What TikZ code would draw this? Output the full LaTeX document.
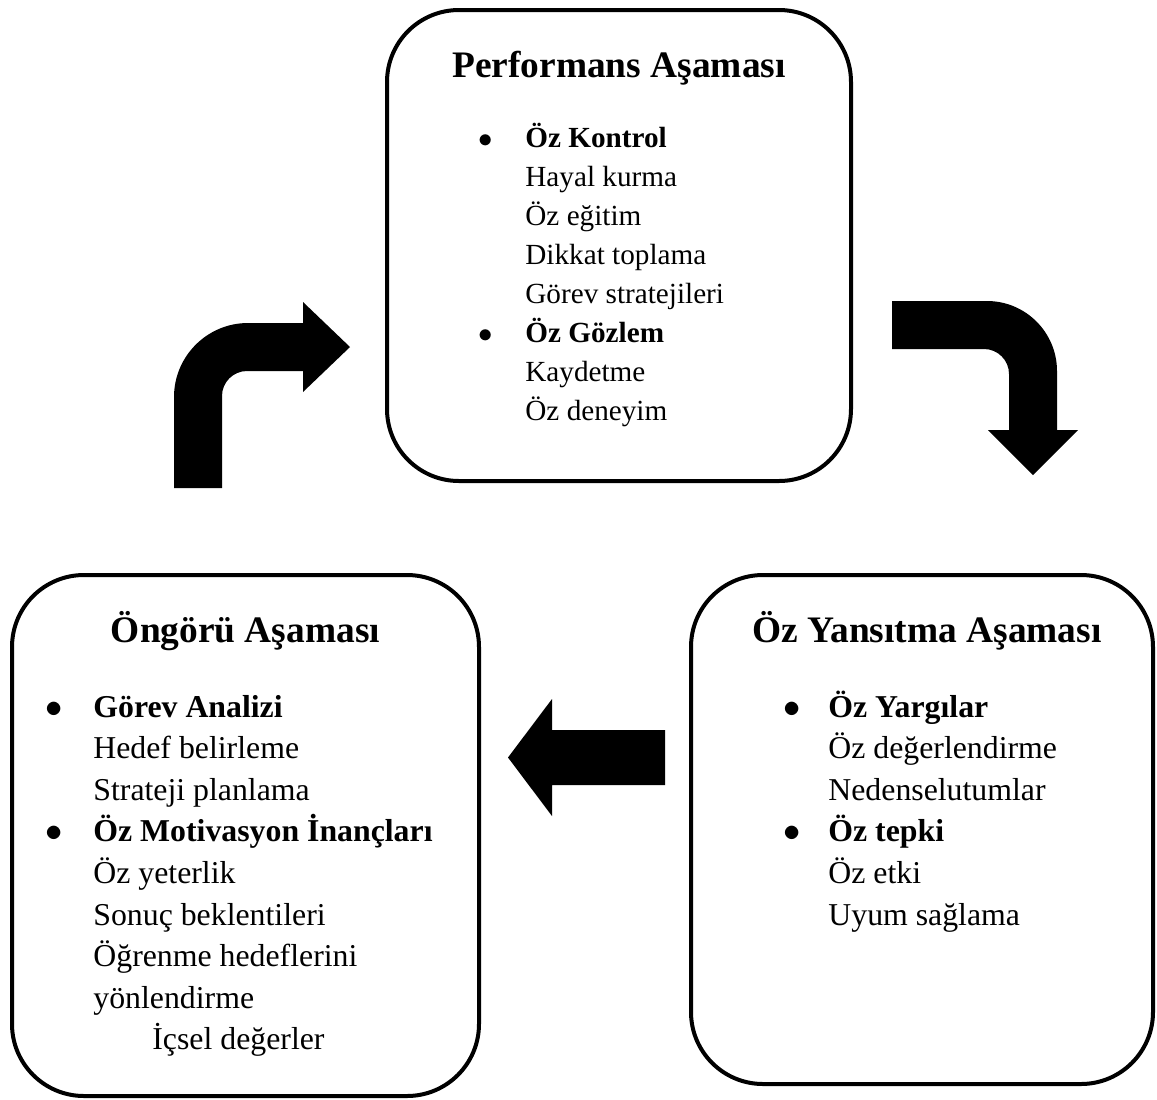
\documentclass[tikz,border=0pt]{standalone}
\usepackage{fontspec}
\setmainfont{Liberation Serif}
\usepackage{tikz}

\begin{document}
\begin{tikzpicture}[
    x=0.5pt, y=-0.5pt,
    phasebox/.style={draw, line width=2pt, rounded corners=36pt, inner sep=0pt, outer sep=0pt},
    phasetitle/.style={anchor=base, inner sep=0pt, font=\fontsize{18.7}{22}\selectfont\bfseries},
    itemlist/.style={anchor=base west, inner sep=0pt, font=\fontsize{15.9}{20.8}\selectfont},
    blockarrow/.style={fill=black, draw=none}
]
\useasboundingbox (0,0) rectangle (1157,1099);

\node[phasebox, minimum width=232pt, minimum height=235.5pt] (perf) at (619,245.5) {};
\node[phasebox, minimum width=233.5pt, minimum height=260.5pt] (ongoru) at (245.5,835.5) {};
\node[phasebox, minimum width=231pt, minimum height=254.5pt] (yansitma) at (922,829.5) {};

\node[phasetitle] (perftitle) at (619,77) {Performans Aşaması};
\node[phasetitle] (ongorutitle) at (245.5,642) {Öngörü Aşaması};
\node[phasetitle] (yansitmatitle) at (927,642) {Öz Yansıtma Aşaması};

\node[itemlist, font=\fontsize{14.6}{19.5}\selectfont] (perflist) at (478,147) {\begin{tabular}[t]{@{}p{23.5pt}@{}l@{}}
$\bullet$ & \textbf{Öz Kontrol}\\
 & Hayal kurma\\
 & Öz eğitim\\
 & Dikkat toplama\\
 & Görev stratejileri\\
$\bullet$ & \textbf{Öz Gözlem}\\
 & Kaydetme\\
 & Öz deneyim
\end{tabular}};

\node[itemlist] (ongorulist) at (45,717) {\begin{tabular}[t]{@{}p{24pt}@{}l@{}}
$\bullet$ & \textbf{Görev Analizi}\\
 & Hedef belirleme\\
 & Strateji planlama\\
$\bullet$ & \textbf{Öz Motivasyon İnançları}\\
 & Öz yeterlik\\
 & Sonuç beklentileri\\
 & Öğrenme hedeflerini\\
 & yönlendirme\\
 & \hspace*{29.5pt}İçsel değerler
\end{tabular}};

\node[itemlist] (yansitmalist) at (783,717) {\begin{tabular}[t]{@{}p{22.5pt}@{}l@{}}
$\bullet$ & \textbf{Öz Yargılar}\\
 & Öz değerlendirme\\
 & Nedenselutumlar\\
$\bullet$ & \textbf{Öz tepki}\\
 & Öz etki\\
 & Uyum sağlama
\end{tabular}};

% block arrows between the phases
\fill[blockarrow] (174,488) -- (174,397) .. controls (174,356.2) and (207.2,323) .. (248,323)
    -- (303,323) -- (303,302) -- (350,347) -- (303,392) -- (303,371) -- (247,371)
    .. controls (233.2,371) and (222,382.2) .. (222,396) -- (222,488) -- cycle;
\fill[blockarrow] (892,301) -- (987,301) .. controls (1025.6,301) and (1057,332.4) .. (1057,371)
    -- (1057,430) -- (1078,430) -- (1033,475) -- (988,430) -- (1009,430) -- (1009,374)
    .. controls (1009,360.2) and (997.8,349) .. (984,349) -- (892,349) -- cycle;
\fill[blockarrow] (665,730) -- (552,730) -- (552,699) -- (508,757.5) -- (552,816)
    -- (552,785) -- (665,785) -- cycle;
\end{tikzpicture}
\end{document}
